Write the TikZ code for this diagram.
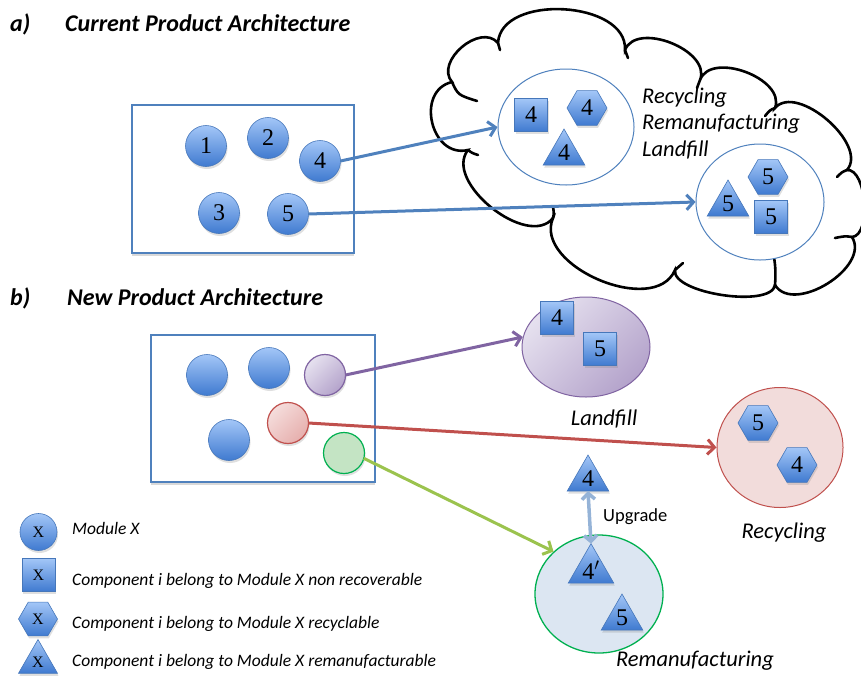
\documentclass[tikz,border=0pt]{standalone}
\usepackage{fontspec}
\setmainfont{Carlito}
\newfontfamily\numfont{Liberation Serif}
\usetikzlibrary{arrows.meta,shapes.geometric,shadows,calc}
\definecolor{bl}{HTML}{4F81BD}
\definecolor{blt}{HTML}{A3C6F7}
\definecolor{blb}{HTML}{3F7AD0}
\definecolor{ble}{HTML}{4677BA}
\definecolor{pur}{HTML}{8064A2}
\definecolor{purl}{HTML}{E6E1EF}
\definecolor{purd}{HTML}{B4A3CB}
\definecolor{redd}{HTML}{C0504D}
\definecolor{redl}{HTML}{F5DDDC}
\definecolor{redm}{HTML}{E6AFAD}
\definecolor{grn}{HTML}{00B050}
\definecolor{grnl}{HTML}{C4E4C4}
\definecolor{lime}{HTML}{9BC34E}
\definecolor{upb}{HTML}{95B3D7}
\definecolor{remf}{HTML}{DCE6F2}
\definecolor{recf}{HTML}{F2DCDB}
\begin{document}
\begin{tikzpicture}[x=1pt,y=-1pt,
  shp/.style={draw=ble, line width=0.6pt, top color=blt, bottom color=blb, inner sep=0pt, outer sep=0pt,
    font=\numfont\fontsize{24}{24}\selectfont,
    drop shadow={shadow xshift=1pt, shadow yshift=-2.5pt, opacity=0.25}},
  modc/.style={shp, circle, minimum size=41pt},
  sqr/.style={shp, rectangle, minimum size=33pt},
  hexa/.style={shp, regular polygon, regular polygon sides=6, minimum size=40pt},
  tri/.style={shp, regular polygon, regular polygon sides=3, minimum size=48pt},
  lgd/.style={font=\numfont\fontsize{16}{16}\selectfont},
  boxst/.style={draw=bl, line width=1.5pt, fill=white, inner sep=0pt,
    drop shadow={shadow xshift=0pt, shadow yshift=-2.5pt, opacity=0.3}},
  ell/.style={ellipse, inner sep=0pt},
  cloudln/.style={draw=black, line width=2.6pt, line cap=round},
  ttl/.style={font=\bfseries\itshape\fontsize{24}{28}\selectfont, anchor=base west, inner sep=0pt},
  lbl/.style={font=\itshape\fontsize{22.5}{26}\selectfont, inner sep=0pt},
  ltxt/.style={font=\itshape\fontsize{17.5}{21}\selectfont, anchor=base west, inner sep=0pt},
  barb/.style={-{Straight Barb[length=7pt,width=15pt]}},
  arr/.style={line width=3pt, barb},
]
\useasboundingbox (0,0) rectangle (861,675);

% ---------- titles
\node[ttl] (ta) at (10,31) {a)};
\node[ttl] (tat) at (65,31) {Current Product Architecture};
\node[ttl] (tb) at (10,305) {b)};
\node[ttl] (tbt) at (67,305) {New Product Architecture};

% ---------- cloud
\draw[cloudln, fill=white] (498,43)
  to[bend right=90, looseness=1.15] (452,82)
  to[bend right=90, looseness=1.4] (468,150)
  to[bend right=90, looseness=0.95] (553,218)
  to[bend right=90, looseness=1.0] (675,270)
  to[bend right=90, looseness=0.6] (775,285)
  to[bend right=90, looseness=1.0] (852,237)
  to[bend right=90, looseness=0.75] (847,170)
  to[bend right=90, looseness=0.9] (775,108)
  to[bend right=90, looseness=1.0] (700,80)
  to[bend right=90, looseness=1.0] (625,50)
  to[bend right=90, looseness=1.0] (498,43) -- cycle;
\draw[cloudln] (452,82) .. controls (458,95) .. (477,101);
\draw[cloudln] (468,150) .. controls (472,153) .. (478,155);
\draw[cloudln] (553,218) .. controls (554,213) .. (553,207);
\draw[cloudln] (675,270) .. controls (679,266) .. (683,263);
\draw[cloudln] (775,285) .. controls (777,260) and (772,242) .. (762,233);
\draw[cloudln] (852,237) .. controls (845,236) .. (835,238);
\draw[cloudln] (847,170) .. controls (842,172) .. (837,177);
\draw[cloudln] (775,108) .. controls (770,110) .. (765,116);
\draw[cloudln] (700,80) .. controls (699,84) .. (697,88);
\draw[cloudln] (625,50) .. controls (627,54) .. (628,58);
\draw[cloudln] (498,43) .. controls (499,46) .. (500,50);

% ---------- part a
\node[boxst, minimum width=222pt, minimum height=148pt] (boxa) at (243,179) {};
\node[modc] (m1) at (206,146) {1};
\node[modc] (m2) at (268,138) {2};
\node[modc] (m4) at (320,161) {4};
\node[modc] (m3) at (219,213) {3};
\node[modc] (m5) at (288,214) {5};

\node[ell, draw=bl, line width=1pt, fill=white, minimum width=136pt, minimum height=116pt] (e1) at (566,127) {};
\node[ell, draw=bl, line width=1pt, fill=white, minimum width=128pt, minimum height=116pt] (e2) at (760,202) {};
\node[sqr] (a4s) at (531,115) {4};
\node[hexa] (a4h) at (587,108) {4};
\node[tri] (a4t) at (564,153) {4};
\node[hexa] (a5h) at (768,177) {5};
\node[tri] (a5t) at (728,204) {5};
\node[sqr] (a5s) at (771,217) {5};

\node[lbl, anchor=base west] (cl1) at (642,103) {Recycling};
\node[lbl, anchor=base west] (cl2) at (642,129) {Remanufacturing};
\node[lbl, anchor=base west] (cl3) at (642,156) {Landfill};

\draw[arr, bl] (m4.east) -- (e1.west);
\draw[arr, bl] (m5.east) -- (e2.west);

% ---------- part b
\node[boxst, minimum width=224pt, minimum height=147pt] (boxb) at (263,408.5) {};
\node[modc] (b1) at (207,375) {};
\node[modc] (b2) at (269,368) {};
\node[modc] (b3) at (229,440) {};
\node[modc, draw=pur, line width=1.2pt, top color=purl, bottom color=purd, shading angle=45] (bp) at (325,375) {};
\node[modc, draw=redd, line width=1.2pt, top color=redl, bottom color=redm, shading angle=45] (br) at (288,423) {};
\node[modc, draw=grn, line width=1.2pt, fill=grnl, top color=grnl, bottom color=grnl] (bg) at (344,453) {};

\node[ell, draw=pur, line width=1pt, top color=purl, bottom color=purd, shading angle=45, minimum width=128pt, minimum height=100pt] (lf) at (586,347) {};
\node[sqr] (b4s) at (557,318) {4};
\node[sqr] (b5s) at (600,349) {5};
\node[lbl, anchor=base] (lfl) at (604,425) {Landfill};

\node[ell, draw=redd, line width=1pt, fill=recf, minimum width=126pt, minimum height=120pt] (rec) at (780,447.5) {};
\node[hexa] (b5h) at (758,423) {5};
\node[hexa] (b4h) at (797,465) {4};
\node[lbl, anchor=base] (recl) at (784,538) {Recycling};

\node[ell, draw=grn, line width=1.3pt, fill=remf, minimum width=128pt, minimum height=118pt] (rem) at (599,594) {};
\node[tri] (t4) at (588,479) {4};
\node[tri] (t4p) at (591,570) {4$'$};
\node[tri] (t5) at (622,618) {5};
\node[lbl, anchor=base] (reml) at (695,666) {Remanufacturing};

\draw[line width=3.5pt, upb, {Straight Barb[length=6pt,width=13pt]}-{Straight Barb[length=6pt,width=13pt]}] (t4.south) -- (t4p.corner 1);
\node[font=\fontsize{18.5}{22}\selectfont, anchor=base west, inner sep=0pt] (upg) at (603,521) {Upgrade};

\draw[arr, pur] (bp.east) -- (lf.171);
\draw[arr, redd] (br.east) -- (rec.west);
\draw[arr, lime] (bg.-15) -- (rem.137);

% ---------- legend
\node[modc, minimum size=37pt, lgd] (lg1) at (38.5,532) {X};
\node[sqr, lgd] (lg2) at (38.5,575) {X};
\node[hexa, minimum size=39pt, lgd] (lg3) at (38,619) {X};
\node[tri, minimum size=45pt, lgd] (lg4) at (38,662) {X};
\node[ltxt] (lt1) at (72,534) {Module X};
\node[ltxt] (lt2) at (72,585) {Component i belong to Module X non recoverable};
\node[ltxt] (lt3) at (72,628) {Component i belong to Module X recyclable};
\node[ltxt] (lt4) at (72,666) {Component i belong to Module X remanufacturable};
\end{tikzpicture}
\end{document}
